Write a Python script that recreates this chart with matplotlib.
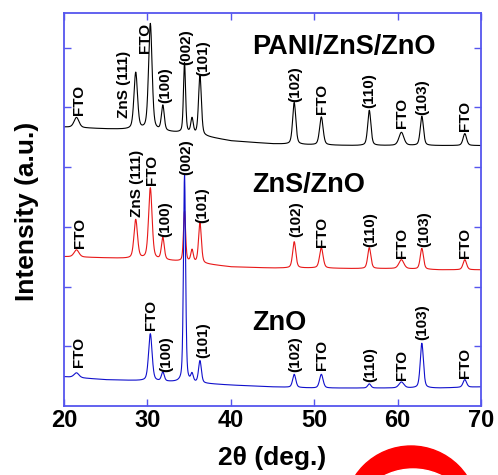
import numpy as np
import matplotlib
matplotlib.use("Agg")
import matplotlib.pyplot as plt
from matplotlib.patches import Circle

plt.rcParams['font.family'] = ['Liberation Sans', 'DejaVu Sans']
plt.rcParams['font.weight'] = 'bold'

# peak positions (2theta, deg.) shared by the three patterns
peak_pos = [21.5, 28.6, 30.35, 31.85, 34.45, 35.35, 36.3, 47.6, 50.85, 56.6, 60.45, 62.9, 68.05]
peak_fwhm = [0.7, 0.5, 0.5, 0.4, 0.3, 0.35, 0.4, 0.45, 0.5, 0.45, 0.7, 0.45, 0.5]

# peak heights (a.u.)
pani_height = [0.17, 0.95, 1.78, 0.42, 1.17, 0.25, 1.0, 0.70, 0.47, 0.59, 0.22, 0.49, 0.20]
zns_height = [0.12, 0.65, 1.19, 0.37, 0.84, 0.20, 0.67, 0.44, 0.34, 0.35, 0.15, 0.35, 0.17]
zno_height = [0.08, 0.0, 0.79, 0.15, 3.48, 0.13, 0.37, 0.22, 0.23, 0.07, 0.10, 0.75, 0.13]

# background levels (offset included)
bg_x = [20, 25, 30, 35, 40, 45, 50, 55, 60, 65, 70]
pani_bg = [4.67, 4.64, 4.62, 4.56, 4.44, 4.39, 4.37, 4.36, 4.36, 4.36, 4.36]
zns_bg = [2.50, 2.48, 2.46, 2.41, 2.33, 2.31, 2.31, 2.30, 2.30, 2.28, 2.28]
zno_bg = [0.49, 0.44, 0.42, 0.39, 0.35, 0.32, 0.30, 0.30, 0.30, 0.30, 0.32]

series_names = ['PANI/ZnS/ZnO', 'ZnS/ZnO', 'ZnO']
xticks = [20, 30, 40, 50, 60, 70]

# peak labels: (text, x, y of label bottom)
pani_labels = [('FTO', 21.8, 4.87), ('ZnS (111)', 27.2, 4.82), ('FTO', 29.7, 5.91),
               ('(100)', 32.1, 5.08), ('(002)', 34.6, 5.71), ('(101)', 36.7, 5.53),
               ('(102)', 47.7, 5.09), ('FTO', 50.9, 4.89), ('(110)', 56.6, 4.99),
               ('FTO', 60.5, 4.66), ('(103)', 63.0, 4.87), ('FTO', 68.1, 4.61)]
zns_labels = [('FTO', 21.9, 2.65), ('ZnS (111)', 28.7, 3.17), ('FTO', 30.6, 3.70),
              ('(100)', 32.1, 2.83), ('(002)', 34.6, 3.87), ('(101)', 36.6, 3.07),
              ('(102)', 47.8, 2.83), ('FTO', 50.9, 2.66), ('(110)', 56.7, 2.66),
              ('FTO', 60.5, 2.48), ('(103)', 63.2, 2.66), ('FTO', 68.1, 2.48)]
zno_labels = [('FTO', 21.8, 0.65), ('FTO', 30.4, 1.27), ('(100)', 32.2, 0.57),
              ('(101)', 36.7, 0.80), ('(102)', 47.7, 0.57), ('FTO', 50.9, 0.60),
              ('(110)', 56.7, 0.40), ('FTO', 60.5, 0.44), ('(103)', 63.0, 1.11),
              ('FTO', 68.1, 0.47)]


def pattern(x, heights, bg):
    # background + pseudo-Voigt peaks
    y = np.interp(x, bg_x, bg)
    for p, w, h in zip(peak_pos, peak_fwhm, heights):
        s = w / 2.355
        g = np.exp(-0.5 * ((x - p) / s) ** 2)
        lor = 1.0 / (1.0 + ((x - p) / (w / 2)) ** 2)
        y = y + h * (0.6 * g + 0.4 * lor)
    return y


x = np.linspace(20, 70, 3001)
spine_col = '#5555ee'

fig = plt.figure(figsize=(4.98, 4.75), dpi=100)
ax = fig.add_axes([0.1285, 0.1453, 0.8375, 0.8273])

ax.plot(x, pattern(x, pani_height, pani_bg), color='black', lw=0.8)
ax.plot(x, pattern(x, zns_height, zns_bg), color='#e81818', lw=0.8)
ax.plot(x, pattern(x, zno_height, zno_bg), color='#1010cc', lw=0.8)

for labels in (pani_labels, zns_labels, zno_labels):
    for txt, lx, ly in labels:
        ax.text(lx, ly, txt, rotation=90, ha='center', va='bottom',
                fontsize=11, fontweight='bold')

for name, ny in zip(series_names, [5.90, 3.58, 1.27]):
    ax.text(42.6, ny, name, ha='left', va='baseline', fontsize=19.5, fontweight='bold')

ax.set_xlim(20, 70)
ax.set_ylim(0, 6.58)
ax.set_xticks(xticks)
ax.set_yticks([1, 2, 3, 4, 5, 6])
ax.set_yticklabels([])
ax.tick_params(direction='in', top=True, right=True, length=5, width=1,
               color=spine_col, labelsize=17, pad=2)
for lab in ax.get_xticklabels():
    lab.set_fontweight('bold')
for sp in ax.spines.values():
    sp.set_color(spine_col)
    sp.set_linewidth(1.3)

ax.set_xlabel('2θ (deg.)', fontsize=19, fontweight='bold')
ax.set_ylabel('Intensity (a.u.)', fontsize=19, fontweight='bold')
ax.xaxis.set_label_coords(0.5, -0.102)
ax.yaxis.set_label_coords(-0.061, 0.495)

# red swoosh at the bottom right of the picture
fig.add_artist(Circle((4.11, -0.38), 0.67, color='#ff0000',
                      transform=fig.dpi_scale_trans, zorder=5))
fig.add_artist(Circle((4.13, -0.58), 0.64, color='white',
                      transform=fig.dpi_scale_trans, zorder=6))

fig.savefig('out.png', dpi=100)
